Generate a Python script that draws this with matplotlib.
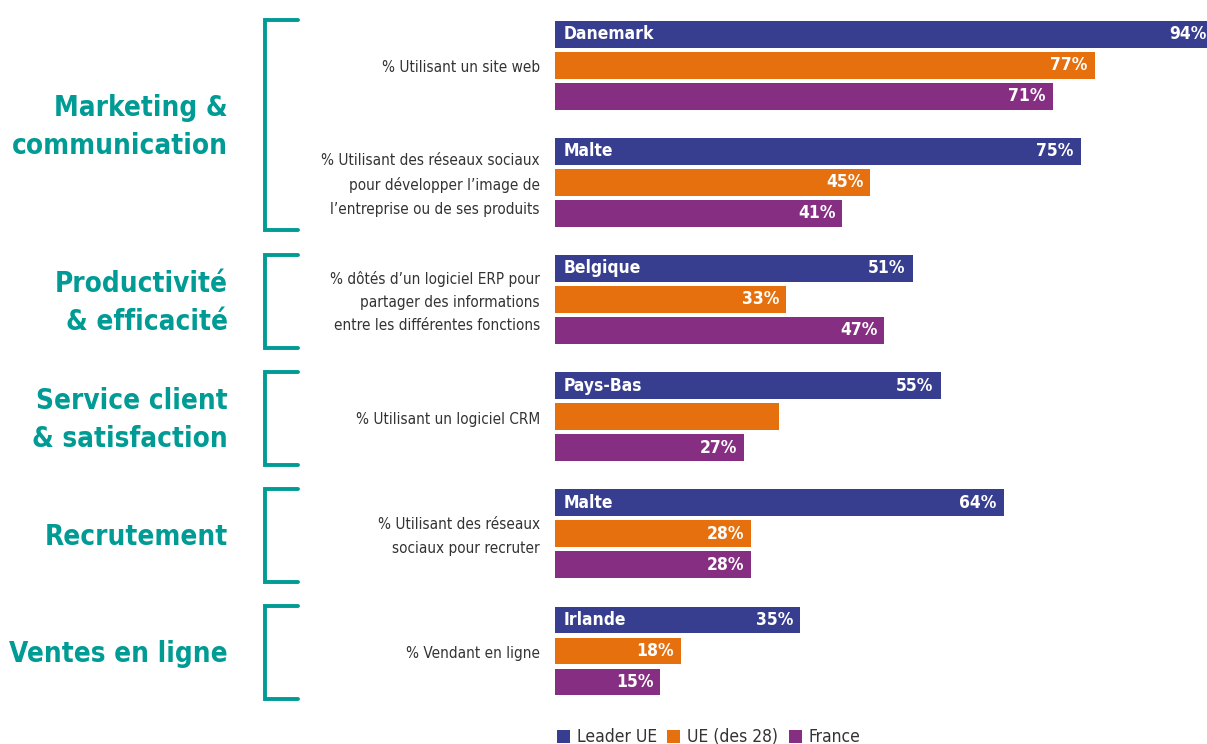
import matplotlib
matplotlib.use("Agg")
import matplotlib.pyplot as plt
from matplotlib.patches import Patch
from matplotlib.transforms import blended_transform_factory

plt.rcParams['font.family'] = ['DejaVu Sans']
plt.rcParams['font.stretch'] = 'condensed'

# données : leader UE, moyenne UE (28), France
questions = ["% Utilisant un site web",
             "% Utilisant des réseaux sociaux\npour développer l’image de\nl’entreprise ou de ses produits",
             "% dôtés d’un logiciel ERP pour\npartager des informations\nentre les différentes fonctions",
             "% Utilisant un logiciel CRM",
             "% Utilisant des réseaux\nsociaux pour recruter",
             "% Vendant en ligne"]
leaders = ["Danemark", "Malte", "Belgique", "Pays-Bas", "Malte", "Irlande"]
leader_ue = [94, 75, 51, 55, 64, 35]
ue28 = [77, 45, 33, 32, 28, 18]
france = [71, 41, 47, 27, 28, 15]
ue28_labels = ["77%", "45%", "33%", "", "28%", "18%"]

themes = ["Marketing &\ncommunication", "Productivité\n& efficacité",
          "Service client\n& satisfaction", "Recrutement", "Ventes en ligne"]
theme_questions = [[0, 1], [2], [3], [4], [5]]

series = [leader_ue, ue28, france]
series_names = ["Leader UE", "UE (des 28)", "France"]
colors = ["#373d8f", "#e5700d", "#862e82"]
teal = "#009b94"
grey = "#333333"

W, H = 1207, 744
fig = plt.figure(figsize=(W / 100, H / 100), dpi=100)
ax = fig.add_axes([555 / W, 0, 652 / W, 1])
ax.set_xlim(0, 652 / 7.01)
ax.set_ylim(H / 31, 0)
ax.axis('off')

pitch = 3.78   # écart entre deux questions (en hauteur de barre)
start = 1.1

def ypos(q, i):
    return start + q * pitch + i

for q in range(len(questions)):
    for i, s in enumerate(series):
        y = ypos(q, i)
        ax.barh(y, s[q], height=0.87, color=colors[i], clip_on=True)
        if i == 1:
            lab = ue28_labels[q]
        else:
            lab = "%d%%" % s[q]
        if lab:
            ax.annotate(lab, (s[q], y), xytext=(-5, 0), textcoords='offset points',
                        ha='right', va='center', color='white', fontsize=12.5,
                        fontweight='bold', annotation_clip=False)
    ax.annotate(leaders[q], (0, ypos(q, 0)), xytext=(6, 0), textcoords='offset points',
                ha='left', va='center', color='white', fontsize=12.5, fontweight='bold')

trans = blended_transform_factory(fig.transFigure, ax.transData)

# libellés des indicateurs
for q, txt in enumerate(questions):
    ax.text(540 / W, ypos(q, 1) + 0.08, txt, transform=trans, ha='right', va='center',
            fontsize=11, color=grey, linespacing=1.7)

# thèmes et accolades
for t, qs in zip(themes, theme_questions):
    top = ypos(qs[0], 0) - 0.45
    bottom = ypos(qs[-1], 2) + 0.55
    mid = (ypos(qs[0], 0) + ypos(qs[-1], 2)) / 2 + 0.1
    ax.plot([298 / W, 265 / W, 265 / W, 298 / W], [top, top, bottom, bottom],
            transform=trans, color=teal, lw=2.8, clip_on=False,
            solid_joinstyle='miter', solid_capstyle='round')
    ax.text(228 / W, mid, t, transform=trans, ha='right', va='center',
            fontsize=20, fontweight='bold', color=teal, linespacing=1.45)

handles = [Patch(facecolor=c, label=n) for c, n in zip(colors, series_names)]
fig.legend(handles=handles, loc='lower left', bbox_to_anchor=(541 / W, -0.024), ncol=3,
           frameon=False, fontsize=12.5, handlelength=0.75, handleheight=0.75,
           handletextpad=0.4, columnspacing=0.6, labelcolor=grey)

fig.savefig("out.png", dpi=100)
